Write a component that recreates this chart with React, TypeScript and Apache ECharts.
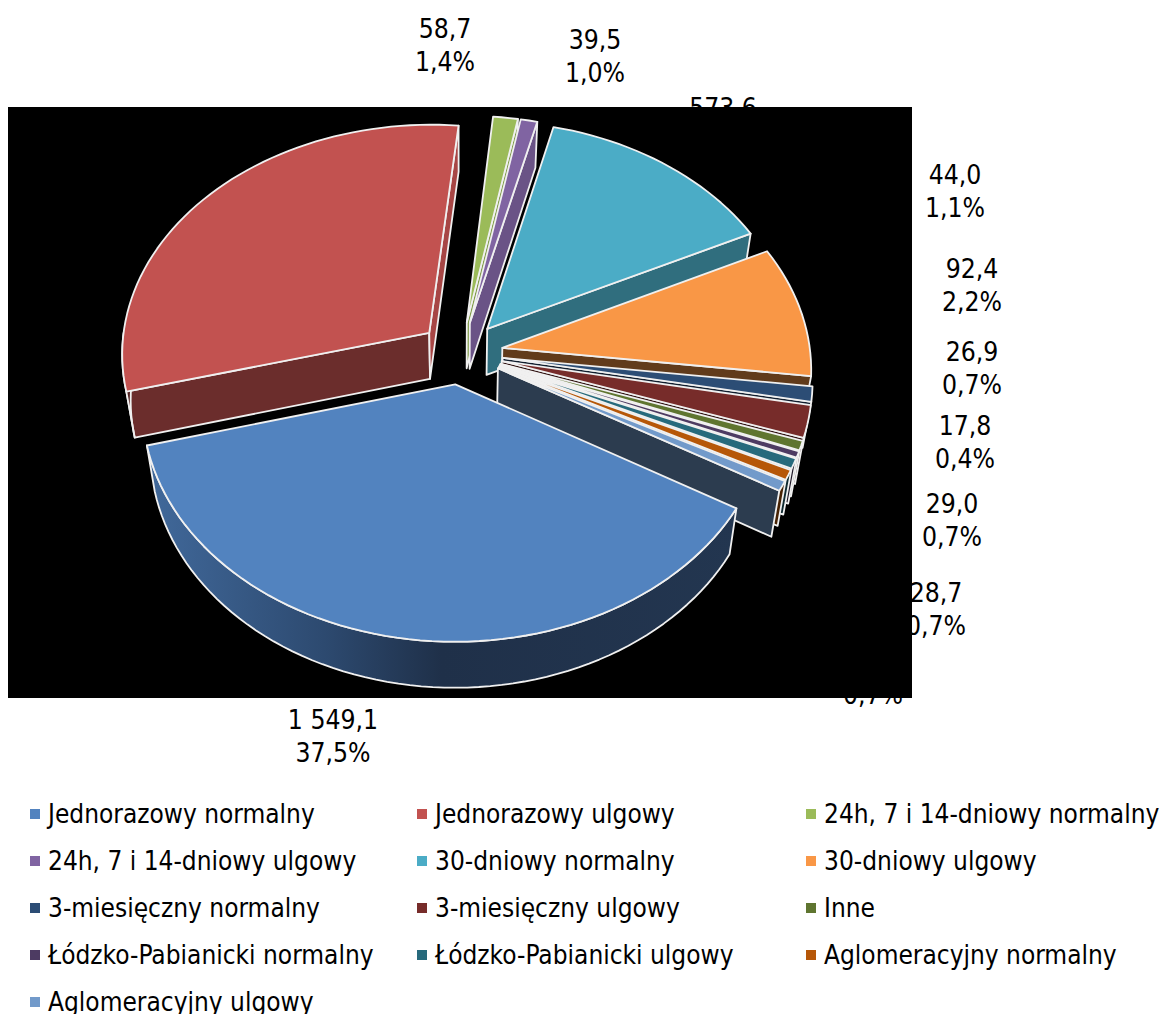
import React, { useEffect, useRef } from "react";
import * as echarts from "echarts";

// ---- data ----
const categories = [
  "Jednorazowy normalny", "Jednorazowy ulgowy", "24h, 7 i 14-dniowy normalny",
  "24h, 7 i 14-dniowy ulgowy", "30-dniowy normalny", "30-dniowy ulgowy",
  "3-miesięczny normalny", "3-miesięczny ulgowy", "Inne",
  "Łódzko-Pabianicki normalny", "Łódzko-Pabianicki ulgowy", "Aglomeracyjny normalny",
  "Aglomeracyjny ulgowy",
];
const values = [1549.1, 1265, 58.7, 39.5, 573.6, 379, 44.0, 92.4, 26.9, 17.8, 29.0, 28.7, 28.5];
const labelLines: string[][] = [
  ["1 549,1", "37,5%"], [], ["58,7", "1,4%"], ["39,5", "1,0%"], ["573,6"], [],
  ["44,0", "1,1%"], ["92,4", "2,2%"], ["26,9", "0,7%"], ["17,8", "0,4%"], ["29,0", "0,7%"],
  ["28,7", "0,7%"], ["0,7%"],
];

// ---- styles and layout ----
const colors = ["#5283bf", "#c25250", "#9bbb59", "#8064a2", "#4bacc6", "#f99746", "#2c4d75", "#772c2a", "#5f7530", "#4d3b62", "#276a7c", "#b65708", "#729aca"];
const labelPos: [number, number][] = [[333, 720], [0, 0], [445, 29], [595, 40], [723, 108], [0, 0], [955, 175], [972, 269], [972, 352], [965, 426], [952, 504], [936, 593], [873, 695]];
const LINE = 32.5;
const FONT = '"DejaVu Sans Condensed", "DejaVu Sans", sans-serif';
const FS = 26.3;
const LEGEND_FS = 26;
const legendCols = [30, 417, 806];
const legendRows = [817, 864, 911, 958, 1005];

const CX = 461, CY = 353, R = 308, EXPL = 42, K = 0.745, C = 0.00028, DEPTH = 46, SHRINK = 0.975, START = 120.3;
const total = values.reduce((a, b) => a + b, 0);
const rad = (d: number) => (d * Math.PI) / 180;

function shade(hex: string, f: number) {
  const n = parseInt(hex.slice(1), 16);
  const c = [(n >> 16) & 255, (n >> 8) & 255, n & 255].map((v) => Math.round(v * f));
  return `rgb(${c[0]},${c[1]},${c[2]})`;
}
function proj(X: number, Y: number): [number, number] {
  const p = 1 / (1 + C * Y);
  return [CX + X * p, CY - Y * K * p];
}
const low = (q: [number, number]): [number, number] => [CX + (q[0] - CX) * SHRINK, q[1] + DEPTH];

function renderSlice(i: number) {
  let acc = START;
  for (let j = 0; j < i; j++) acc += (values[j] / total) * 360;
  const a0 = acc, a1 = acc + (values[i] / total) * 360, m = (a0 + a1) / 2;
  const ox = EXPL * Math.sin(rad(m)), oy = EXPL * Math.cos(rad(m));
  const rim = (t: number) => proj(ox + R * Math.sin(rad(t)), oy + R * Math.cos(rad(t)));
  const apex = proj(ox, oy);
  const stroke = { stroke: "#f0f0f0", lineWidth: 1.8, lineJoin: "round" };
  const poly = (points: number[][], fill: any) => ({ type: "polygon", shape: { points }, style: { fill, ...stroke } });
  const children: any[] = [];
  const norm = (d: number) => ((d % 360) + 360) % 360;
  const s0 = norm(a0), s1 = norm(a1);
  // start wall
  if (s0 > 180) children.push(poly([apex, rim(a0), low(rim(a0)), low(apex)], shade(colors[i], 0.55)));
  // end wall
  if (s1 < 180) children.push(poly([apex, rim(a1), low(rim(a1)), low(apex)], shade(colors[i], s1 < 70 ? 0.88 - 0.0038 * s1 : 0.39)));
  // outer rim wall, only the part turned towards the viewer
  const lo = Math.max(a0, 90), hi = Math.min(a1, 270);
  if (hi > lo) {
    const top: number[][] = [];
    const n = Math.max(2, Math.ceil((hi - lo) / 2));
    for (let k = 0; k <= n; k++) top.push(rim(lo + ((hi - lo) * k) / n));
    const bottom = top.slice().reverse().map((q) => low(q as [number, number]));
    const fill = i === 0
      ? new echarts.graphic.LinearGradient(0, 0, 1, 0, [
          { offset: 0, color: "#41699b" }, { offset: 0.3, color: "#2d4a70" },
          { offset: 0.5, color: "#1f3049" }, { offset: 1, color: "#233650" },
        ])
      : shade(colors[i], 0.42);
    children.push(poly([...top, ...bottom], fill));
  }
  // top face
  const pts: number[][] = [apex];
  const n = Math.max(2, Math.ceil((a1 - a0) / 2));
  for (let k = 0; k <= n; k++) pts.push(rim(a0 + ((a1 - a0) * k) / n));
  children.push(poly(pts, colors[i]));
  return { type: "group", children };
}

export default function App() {
  const ref = useRef<HTMLDivElement>(null);
  useEffect(() => {
    const chart = echarts.init(ref.current!, null, { renderer: "svg" });
    const texts: any[] = [];
    labelLines.forEach((lines, i) =>
      lines.forEach((t, l) =>
        texts.push({
          type: "text", x: labelPos[i][0], y: labelPos[i][1] + l * LINE,
          style: { text: t, fill: "#000", font: `${FS}px ${FONT}`, align: "center", verticalAlign: "middle" },
        })
      )
    );
    chart.setOption({
      animation: false,
      backgroundColor: "#fff",
      graphic: {
        elements: [
          ...texts,
          { type: "rect", z: 1, shape: { x: 8, y: 107, width: 904, height: 591 }, style: { fill: "#000" } },
        ],
      },
      legend: categories.map((name, i) => ({
        data: [name],
        left: legendCols[i % 3],
        top: legendRows[Math.floor(i / 3)] - 16,
        padding: 0,
        icon: "rect",
        itemWidth: 10,
        itemHeight: 10,
        selectedMode: false,
        textStyle: { fontSize: LEGEND_FS, fontFamily: FONT, color: "#000", padding: [0, 0, 0, 3] },
      })),
      series: categories.map((name, i) => ({
        type: "custom",
        name,
        coordinateSystem: "none",
        z: i === 0 ? 40 : 2 + i,
        silent: true,
        itemStyle: { color: colors[i] },
        data: [values[i]],
        renderItem: () => renderSlice(i),
      })),
    });
    return () => chart.dispose();
  }, []);
  return <div ref={ref} style={{ position: "absolute", left: 0, top: 0, width: 1164, height: 1014 }} />;
}
